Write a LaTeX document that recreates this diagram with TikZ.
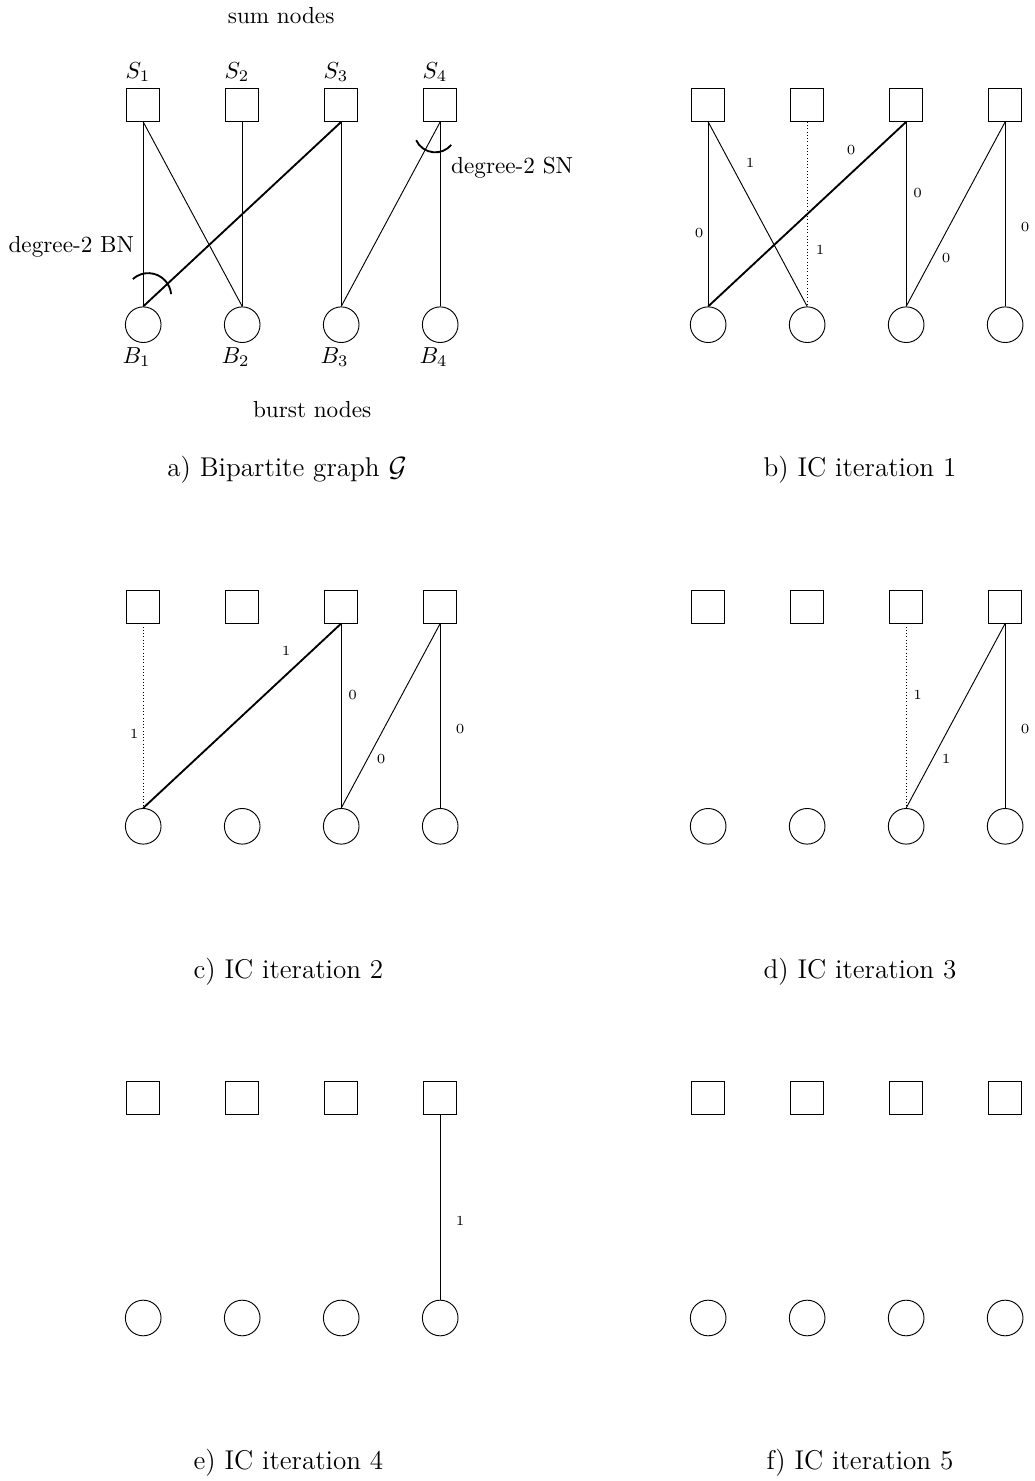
\documentclass[tikz,border=0pt]{standalone}
\begin{document}
\begin{tikzpicture}[x=1cm,y=1cm,
  sumnode/.style={draw,rectangle,minimum size=0.5cm,inner sep=0pt},
  burstnode/.style={draw,circle,minimum size=0.54cm,inner sep=0pt},
  lbl/.style={font=\fontsize{6}{7}\selectfont,inner sep=0pt},
  captext/.style={font=\fontsize{11.7}{14}\selectfont},
  hot/.style={thick},
  cutedge/.style={densely dotted}]
  \useasboundingbox (0,0) rectangle (15.68,-22.44);
  % 六个子图的节点
  \foreach \p/\x/\y/\cx/\txt in {a/2.17/-1.59/2.18/{a) Bipartite graph $\mathcal{G}$},
      b/10.73/-1.59/2.3/{b) IC iteration 1}, c/2.17/-9.19/2.2/{c) IC iteration 2},
      d/10.73/-9.19/2.3/{d) IC iteration 3}, e/2.17/-16.64/2.2/{e) IC iteration 4},
      f/10.73/-16.64/2.3/{f) IC iteration 5}}{
    \begin{scope}[shift={(\x,\y)}]
      \foreach \i in {1,...,4}{
        \node[sumnode] (\p-s\i) at ({1.5*(\i-1)},0) {};
        \node[burstnode] (\p-b\i) at ({1.5*(\i-1)},-3.33) {};
      }
      \node[captext] (\p-cap) at (\cx,-5.53) {\txt};
    \end{scope}
  }
  % a) 二部图
  \begin{scope}[shift={(2.17,-1.59)}]
    \node (sumlbl) at (2.09,1.35) {sum nodes};
    \node (burstlbl) at (2.56,-4.62) {burst nodes};
    \node (bnlbl) at (-1.09,-2.15) {degree-2 BN};
    \node (snlbl) at (5.59,-0.955) {degree-2 SN};
    \foreach \i in {1,...,4}{
      \node (slbl\i) at ({1.5*(\i-1)-0.08},0.5) {$S_\i$};
      \node (blbl\i) at ({1.5*(\i-1)-0.1},-3.82) {$B_\i$};
    }
  \end{scope}
  \draw (a-s1.south) -- (a-b1.north);
  \draw (a-s1.south) -- (a-b2.north);
  \draw (a-s2.south) -- (a-b2.north);
  \draw[hot] (a-s3.south) -- (a-b1.north);
  \draw (a-s3.south) -- (a-b3.north);
  \draw (a-s4.south) -- (a-b3.north);
  \draw (a-s4.south) -- (a-b4.north);
  \draw[thick] ([shift={(-0.157,0.415)}]a-b1.north) arc[start angle=132,end angle=5,radius=0.348];
  \draw[thick] ([shift={(-0.364,-0.278)}]a-s4.south) arc[start angle=205,end angle=320,radius=0.318];
  % b) 第 1 次迭代
  \draw (b-s1.south) -- node[lbl,pos=0.6,xshift=-0.136cm] {0} (b-b1.north);
  \draw (b-s1.south) -- node[lbl,pos=0.223,xshift=0.3cm] {1} (b-b2.north);
  \draw[cutedge] (b-s2.south) -- node[lbl,pos=0.692,xshift=0.197cm] {1} (b-b2.north);
  \draw[hot] (b-s3.south) -- node[lbl,pos=0.151,xshift=-0.381cm] {0} (b-b1.north);
  \draw (b-s3.south) -- node[lbl,pos=0.388,xshift=0.174cm] {0} (b-b3.north);
  \draw (b-s4.south) -- node[lbl,pos=0.735,xshift=0.208cm] {0} (b-b3.north);
  \draw (b-s4.south) -- node[lbl,pos=0.571,xshift=0.303cm] {0} (b-b4.north);
  % c) 第 2 次迭代
  \draw[cutedge] (c-s1.south) -- node[lbl,pos=0.6,xshift=-0.136cm] {1} (c-b1.north);
  \draw[hot] (c-s3.south) -- node[lbl,pos=0.151,xshift=-0.381cm] {1} (c-b1.north);
  \draw (c-s3.south) -- node[lbl,pos=0.388,xshift=0.174cm] {0} (c-b3.north);
  \draw (c-s4.south) -- node[lbl,pos=0.735,xshift=0.208cm] {0} (c-b3.north);
  \draw (c-s4.south) -- node[lbl,pos=0.571,xshift=0.303cm] {0} (c-b4.north);
  % d) 第 3 次迭代
  \draw[cutedge] (d-s3.south) -- node[lbl,pos=0.388,xshift=0.174cm] {1} (d-b3.north);
  \draw (d-s4.south) -- node[lbl,pos=0.735,xshift=0.208cm] {1} (d-b3.north);
  \draw (d-s4.south) -- node[lbl,pos=0.571,xshift=0.303cm] {0} (d-b4.north);
  % e) 第 4 次迭代
  \draw (e-s4.south) -- node[lbl,pos=0.571,xshift=0.303cm] {1} (e-b4.north);
\end{tikzpicture}
\end{document}
